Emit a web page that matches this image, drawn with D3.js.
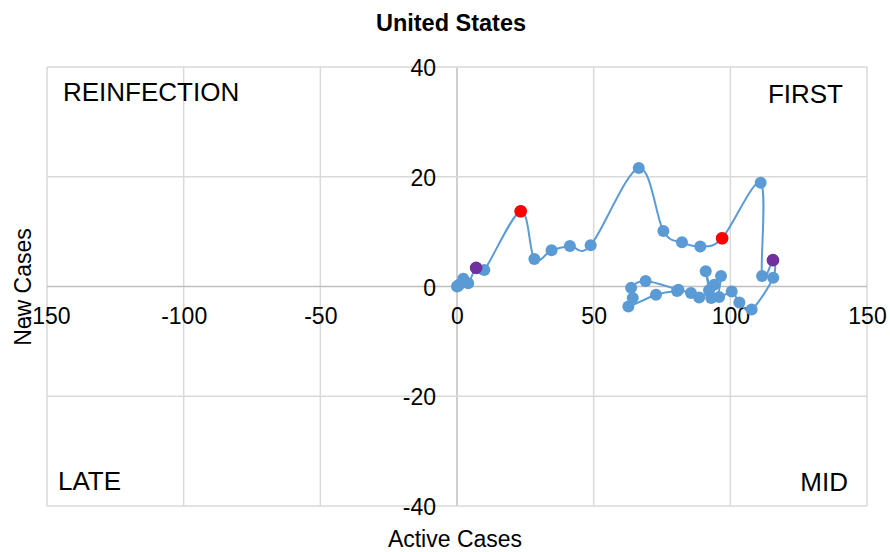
<!DOCTYPE html>
<html>
<head>
<meta charset="utf-8">
<script src="https://cdn.jsdelivr.net/npm/d3@7"></script>
<style>
  html, body { margin: 0; padding: 0; background: #fff; }
  svg { display: block; font-family: "Liberation Sans", Arial, sans-serif; }
</style>
</head>
<body>
<svg id="chart" width="890" height="552"></svg>
<script>
// ---- Data ----
const chartTitle = "United States";
const xAxisTitle = "Active Cases";
const yAxisTitle = "New Cases";

// main trajectory, in order
const activeCases = [0, 0.3, 0.8, 2.3, 4.1, 7.0, 10.0, 23.3, 28.3, 34.6, 41.3, 48.9, 66.5, 75.5, 82.3, 89.0, 97.0,
  111.1, 111.6, 115.6, 115.7, 107.8, 103.3, 100.5, 95.9, 96.6, 94.1, 93.0, 91.0, 92.2, 88.6, 85.6, 81.0,
  69.0, 63.7, 64.3, 62.7, 72.8, 80.5];
const newCases = [0, 0.1, 0.3, 1.4, 0.6, 3.4, 3.0, 13.7, 5.0, 6.6, 7.4, 7.5, 21.6, 10.1, 8.05, 7.3, 8.8,
  18.9, 1.9, 4.8, 1.6, -4.2, -2.9, -0.9, -1.9, 1.9, 0.3, -2.1, 2.8, -0.7, -2.0, -1.2, -0.6,
  1.0, -0.25, -2.1, -3.65, -1.5, -0.8];

// highlighted points
const redActive = [23.3, 97.0];
const redNew = [13.7, 8.8];
const purpleActive = [7.0, 115.6];
const purpleNew = [3.4, 4.8];

const xTicks = [-150, -100, -50, 0, 50, 100, 150];
const yTicks = [-40, -20, 0, 20, 40];

const quadrantNames = ["REINFECTION", "FIRST", "LATE", "MID"];

// ---- Drawing ----
const svg = d3.select("#chart");
const x = d3.scaleLinear().domain([-150, 150]).range([47, 867]);
const y = d3.scaleLinear().domain([-40, 40]).range([506, 67]);

const blue = "#5B9BD5";
const fmt = d => String(d); // plain hyphen minus, as in the reference

// gridlines
const grid = svg.append("g");
grid.selectAll("line.vx").data(xTicks).join("line")
  .attr("x1", d => x(d)).attr("x2", d => x(d))
  .attr("y1", y(40)).attr("y2", y(-40))
  .attr("stroke", d => d === 0 ? "#bfbfbf" : "#d9d9d9").attr("stroke-width", 1.5);
grid.selectAll("line.hy").data(yTicks).join("line")
  .attr("y1", d => y(d)).attr("y2", d => y(d))
  .attr("x1", x(-150)).attr("x2", x(150))
  .attr("stroke", d => d === 0 ? "#bfbfbf" : "#d9d9d9").attr("stroke-width", 1.5);

// axes (labels only, crossing at 0)
const xAxis = svg.append("g").attr("transform", `translate(0,${y(0)})`)
  .call(d3.axisBottom(x).tickValues(xTicks).tickSize(0).tickPadding(21).tickFormat(fmt));
const yAxis = svg.append("g").attr("transform", `translate(${x(0)},0)`)
  .call(d3.axisLeft(y).tickValues(yTicks).tickSize(0).tickPadding(21).tickFormat(fmt));
[xAxis, yAxis].forEach(g => {
  g.select(".domain").remove();
  g.selectAll("text").attr("font-size", 23).attr("fill", "#000")
    .attr("font-family", "'Liberation Sans', Arial, sans-serif");
});
yAxis.selectAll("text").attr("dy", "0.37em");

// line
const pts = activeCases.map((v, i) => [v, newCases[i]]);
const line = d3.line().x(d => x(d[0])).y(d => y(d[1])).curve(d3.curveCatmullRom.alpha(0));
svg.append("path").datum(pts).attr("d", line)
  .attr("fill", "none").attr("stroke", blue).attr("stroke-width", 2);

svg.append("g").selectAll("circle").data(pts).join("circle")
  .attr("cx", d => x(d[0])).attr("cy", d => y(d[1])).attr("r", 6).attr("fill", blue);

svg.append("g").selectAll("circle").data(redActive.map((v, i) => [v, redNew[i]])).join("circle")
  .attr("cx", d => x(d[0])).attr("cy", d => y(d[1])).attr("r", 6.3).attr("fill", "#FF0000");
svg.append("g").selectAll("circle").data(purpleActive.map((v, i) => [v, purpleNew[i]])).join("circle")
  .attr("cx", d => x(d[0])).attr("cy", d => y(d[1])).attr("r", 6.3).attr("fill", "#7030A0");

// quadrant labels
const q = svg.append("g").attr("font-size", 26).attr("fill", "#000");
q.append("text").attr("x", 63).attr("y", 101).text(quadrantNames[0]);
q.append("text").attr("x", 843).attr("y", 103).attr("text-anchor", "end").text(quadrantNames[1]);
q.append("text").attr("x", 58).attr("y", 490).text(quadrantNames[2]);
q.append("text").attr("x", 848).attr("y", 491).attr("text-anchor", "end").text(quadrantNames[3]);

// titles
svg.append("text").attr("x", 451).attr("y", 31).attr("text-anchor", "middle")
  .attr("font-size", 23.5).attr("font-weight", "bold").text(chartTitle);
svg.append("text").attr("x", 455).attr("y", 547).attr("text-anchor", "middle")
  .attr("font-size", 23).text(xAxisTitle);
svg.append("text").attr("transform", "translate(31,287) rotate(-90)").attr("text-anchor", "middle")
  .attr("font-size", 23).text(yAxisTitle);
</script>
</body>
</html>
